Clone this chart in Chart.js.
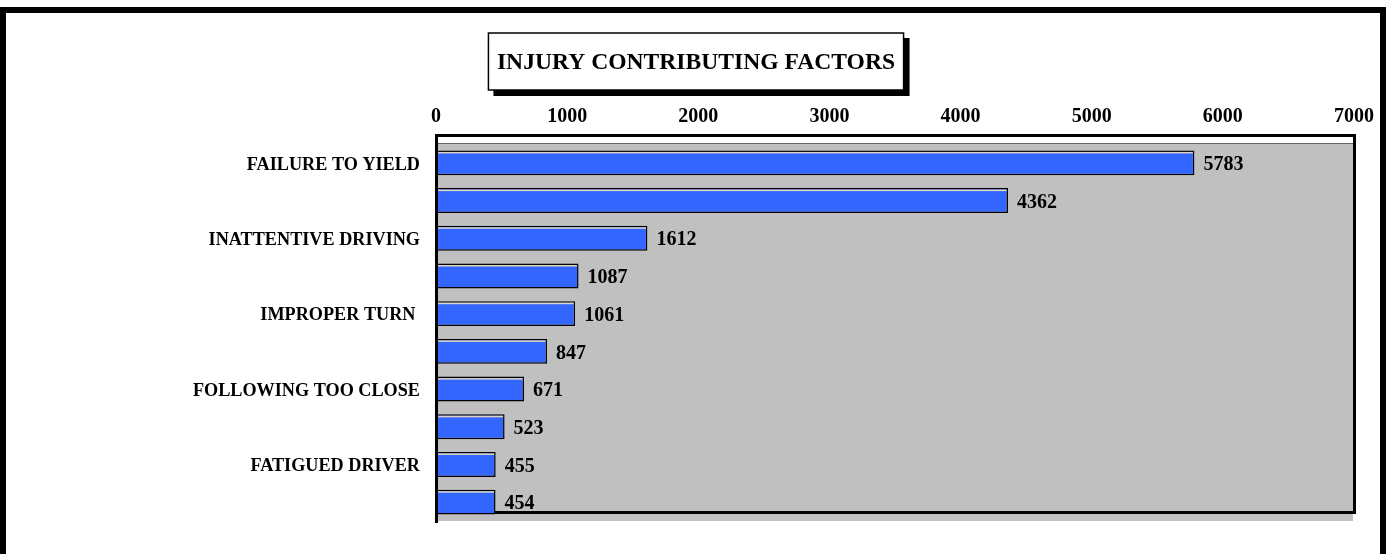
<!DOCTYPE html>
<html>
<head>
<meta charset="utf-8">
<script src="https://cdn.jsdelivr.net/npm/chart.js@4.4.1/dist/chart.umd.min.js"></script>
<style>
html, body { margin: 0; padding: 0; background: #fff; }
</style>
</head>
<body>
<canvas id="injuryChart" width="1390" height="554"></canvas>
<script>
const chartTitle = 'INJURY CONTRIBUTING FACTORS';
const categories = ['FAILURE TO YIELD', '', 'INATTENTIVE DRIVING', '', 'IMPROPER TURN ', '', 'FOLLOWING TOO CLOSE', '', 'FATIGUED DRIVER', ''];
const injuries = [5783, 4362, 1612, 1087, 1061, 847, 671, 523, 455, 454];
const axisMin = 0;
const axisMax = 7000;
const axisStep = 1000;

const serif = '"Liberation Serif", "Times New Roman", serif';
const barBlue = '#3366ff';
const wallGray = '#c0c0c0';

// page frame, title box with shadow, plot walls, bar value labels
const decorPlugin = {
    id: 'decor',
    beforeDraw(chart) {
        const ctx = chart.ctx;
        ctx.save();
        ctx.fillStyle = '#000';
        ctx.fillRect(0, 7, 1386, 6);
        ctx.fillRect(0, 7, 6, chart.height);
        ctx.fillRect(1380, 7, 6, chart.height);

        ctx.font = 'bold 23.6px ' + serif;
        const w = ctx.measureText(chartTitle).width;
        const cx = 696;
        const cy = 61.5;
        const x0 = cx - w / 2 - 8.5, y0 = cy - 28.5;
        const bw = w + 17, bh = 57;
        ctx.fillStyle = '#000';
        ctx.fillRect(x0 + 5, y0 + 5, bw + 1, bh + 1);
        ctx.fillStyle = '#fff';
        ctx.fillRect(x0, y0, bw, bh);
        ctx.strokeStyle = '#000';
        ctx.lineWidth = 1.5;
        ctx.strokeRect(x0, y0, bw, bh);
        ctx.fillStyle = '#000';
        ctx.textAlign = 'center';
        ctx.textBaseline = 'middle';
        ctx.fillText(chartTitle, cx, cy + 1);
        ctx.restore();
    },
    beforeDatasetsDraw(chart) {
        const ctx = chart.ctx;
        const a = chart.chartArea;
        const w = a.right - a.left;
        ctx.save();
        ctx.fillStyle = wallGray;
        ctx.fillRect(a.left, a.top, w - 1, a.bottom - a.top);
        ctx.fillStyle = '#fff';
        ctx.fillRect(a.left, a.top - 7, w, 6);
        ctx.fillStyle = '#666';
        ctx.fillRect(a.left, a.top - 1, w, 1);
        ctx.fillStyle = '#000';
        ctx.fillRect(a.left, a.top - 10, w + 2, 3);
        ctx.fillRect(a.right - 1, a.top - 10, 3, a.bottom - a.top + 1);
        ctx.fillRect(a.left, a.bottom - 10, w + 2, 3);
        ctx.restore();
    },
    afterDatasetsDraw(chart) {
        const ctx = chart.ctx;
        const a = chart.chartArea;
        const meta = chart.getDatasetMeta(0);
        ctx.save();
        meta.data.forEach((bar, i) => {
            const h = bar.height;
            ctx.fillStyle = '#ddd4c4';
            ctx.fillRect(bar.base + 1.5, bar.y - h / 2 + 1.5, bar.x - bar.base - 3, 1.5);
            ctx.fillStyle = '#000';
            ctx.font = 'bold 20px ' + serif;
            ctx.textAlign = 'left';
            ctx.textBaseline = 'middle';
            ctx.fillText(String(injuries[i]), bar.x + 9, bar.y + 2);
        });
        ctx.fillStyle = '#000';
        ctx.fillRect(a.left - 1, a.top - 10, 3, a.bottom - a.top + 12);
        ctx.restore();
    }
};

const ctx = document.getElementById('injuryChart').getContext('2d');
const injuryChart = new Chart(ctx, {
    type: 'bar',
    data: {
        labels: categories,
        datasets: [{
            data: injuries,
            backgroundColor: barBlue,
            borderColor: '#000',
            borderWidth: 1.5,
            borderSkipped: false,
            categoryPercentage: 1,
            barPercentage: 0.66
        }]
    },
    options: {
        indexAxis: 'y',
        responsive: false,
        animation: false,
        events: [],
        layout: { padding: { left: 0, right: 36, top: 0, bottom: 33 } },
        plugins: {
            legend: { display: false },
            tooltip: { enabled: false },
            title: { display: false }
        },
        scales: {
            x: {
                position: 'top',
                min: axisMin,
                max: axisMax,
                grid: { display: false, drawTicks: false },
                border: { display: false },
                ticks: {
                    stepSize: axisStep,
                    color: '#000',
                    padding: 15,
                    maxRotation: 0,
                    autoSkip: false,
                    font: { family: serif, weight: 'bold', size: 20, lineHeight: 1.2 },
                    callback: v => String(v)
                },
                afterFit(s) { s.height = 144; }
            },
            y: {
                grid: { display: false, drawTicks: false },
                border: { display: false },
                ticks: {
                    color: '#000',
                    padding: 16,
                    autoSkip: false,
                    labelOffset: 2,
                    font: { family: serif, weight: 'bold', size: 18.2 }
                },
                afterFit(s) { s.width = 436; }
            }
        }
    },
    plugins: [decorPlugin]
});
</script>
</body>
</html>
